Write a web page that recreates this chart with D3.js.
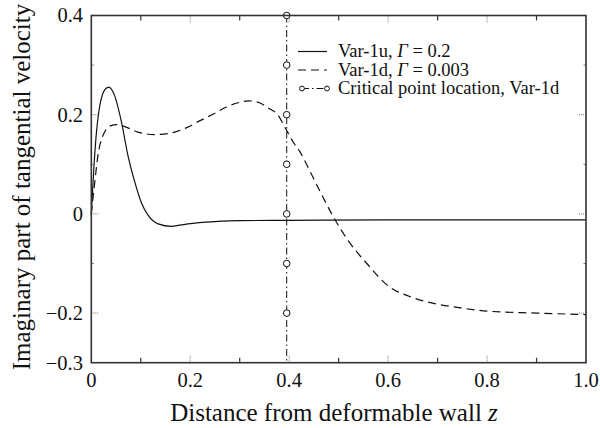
<!DOCTYPE html>
<html>
<head>
<meta charset="utf-8">
<script src="https://cdn.jsdelivr.net/npm/d3@7"></script>
<style>
  html, body { margin: 0; padding: 0; background: #fff; }
  svg { display: block; }
  text { font-family: "Liberation Serif", "Times New Roman", serif; fill: #111; }
</style>
</head>
<body>
<svg id="chart" width="600" height="428"></svg>
<script>
// ---- data ----
const zSolid = [0, 0.005, 0.01, 0.015, 0.02, 0.027, 0.035, 0.047, 0.061, 0.074, 0.088, 0.101, 0.115, 0.135, 0.162, 0.195, 0.25, 0.3, 0.4, 0.6, 0.8, 1.0];
const var1u  = [0, 0.09, 0.16, 0.205, 0.232, 0.25, 0.2557, 0.239, 0.185, 0.118, 0.064, 0.023, -0.003, -0.02, -0.025, -0.02, -0.0155, -0.0135, -0.013, -0.012, -0.012, -0.012];

const zDashed = [0, 0.007, 0.0135, 0.027, 0.04, 0.05, 0.065, 0.094, 0.128, 0.155, 0.195, 0.22, 0.25, 0.274, 0.3, 0.318, 0.34, 0.36, 0.375, 0.395, 0.408, 0.422, 0.44, 0.46, 0.486, 0.52, 0.557, 0.6, 0.645, 0.7, 0.75, 0.8, 0.9, 1.0];
const var1d   = [0, 0.064, 0.118, 0.165, 0.178, 0.18, 0.177, 0.165, 0.16, 0.162, 0.175, 0.188, 0.203, 0.216, 0.225, 0.228, 0.224, 0.212, 0.202, 0.168, 0.145, 0.125, 0.09, 0.05, 0.0, -0.055, -0.1, -0.145, -0.167, -0.182, -0.19, -0.196, -0.2, -0.203];

const criticalZ = 0.395;
const criticalMarkers = [0.4, 0.3, 0.2, 0.1, 0, -0.1, -0.2];

const xLabelTicks = [0, 0.2, 0.4, 0.6, 0.8, 1.0];
const xLabelText  = ["0", "0.2", "0.4", "0.6", "0.8", "1.0"];
const xMinorTicks = [0.1, 0.3, 0.5, 0.7, 0.9];
const yLabelTicks = [0.4, 0.2, 0, -0.2, -0.3];
const yLabelText  = ["0.4", "0.2", "0", "\u22120.2", "\u22120.3"];
const yMinorTicks = [0.3, 0.1, -0.1];

const legendLabels = ["Var-1u, ", "Var-1d, ", "Critical point location, Var-1d"];
const legendGamma  = ["0.2", "0.003", null];

// ---- layout ----
const svg = d3.select("#chart");
const L = 91.3, R = 586, T = 15.5, B = 362.7;
const x = d3.scaleLinear().domain([0, 1]).range([L, R]);
const y = d3.scaleLinear().domain([-0.3, 0.4]).range([B, T]);

const frameColor = "#333";

// curves
const line = d3.line().curve(d3.curveMonotoneX);
svg.append("path")
  .attr("d", line(zSolid.map((z, i) => [x(z), y(var1u[i])])))
  .attr("fill", "none").attr("stroke", "#111").attr("stroke-width", 1.2);
svg.append("path")
  .attr("d", line(zDashed.map((z, i) => [x(z), y(var1d[i])])))
  .attr("fill", "none").attr("stroke", "#111").attr("stroke-width", 1.2)
  .attr("stroke-dasharray", "8,5");

// critical line
svg.append("line")
  .attr("x1", x(criticalZ)).attr("x2", x(criticalZ))
  .attr("y1", y(0.4)).attr("y2", y(-0.3))
  .attr("stroke", "#111").attr("stroke-width", 1)
  .attr("stroke-dasharray", "7,3,1.5,3");
svg.selectAll("circle.crit").data(criticalMarkers).join("circle")
  .attr("class", "crit")
  .attr("cx", x(criticalZ)).attr("cy", d => y(d)).attr("r", 3.3)
  .attr("fill", "#fff").attr("stroke", "#111").attr("stroke-width", 1);

// ticks
const tg = svg.append("g");
xMinorTicks.forEach(v => {
  [[B, B - 5], [T, T + 5]].forEach(([a, b]) =>
    tg.append("line").attr("x1", x(v)).attr("x2", x(v)).attr("y1", a).attr("y2", b)
      .attr("stroke", frameColor).attr("stroke-width", 1.2));
});
xLabelTicks.filter(v => v > 0 && v < 1).forEach(v => {
  [[B, B - 8], [T, T + 8]].forEach(([a, b]) =>
    tg.append("line").attr("x1", x(v)).attr("x2", x(v)).attr("y1", a).attr("y2", b)
      .attr("stroke", "#777").attr("stroke-width", 1).attr("stroke-dasharray", "1,1"));
});
yLabelTicks.filter(v => v > -0.3 && v < 0.4).forEach(v => {
  [[L, L + 8], [R, R - 8]].forEach(([a, b]) =>
    tg.append("line").attr("y1", y(v)).attr("y2", y(v)).attr("x1", a).attr("x2", b)
      .attr("stroke", "#777").attr("stroke-width", 1).attr("stroke-dasharray", "1,1"));
});
yMinorTicks.forEach(v => {
  [[L, L + 2.5], [R, R - 2.5]].forEach(([a, b]) =>
    tg.append("line").attr("y1", y(v)).attr("y2", y(v)).attr("x1", a).attr("x2", b)
      .attr("stroke", "#777").attr("stroke-width", 1));
});

// frame
svg.append("rect").attr("x", L).attr("y", T).attr("width", R - L).attr("height", B - T)
  .attr("fill", "none").attr("stroke", frameColor).attr("stroke-width", 1.6);

// tick labels
svg.selectAll("text.xt").data(xLabelTicks).join("text")
  .attr("class", "xt")
  .attr("x", d => x(d)).attr("y", 387)
  .attr("text-anchor", "middle").attr("font-size", 20.5)
  .text((d, i) => xLabelText[i]);
svg.selectAll("text.yt").data(yLabelTicks).join("text")
  .attr("class", "yt")
  .attr("x", 83).attr("y", d => y(d) + 6.8)
  .attr("text-anchor", "end").attr("font-size", 20.5)
  .text((d, i) => yLabelText[i]);

// axis titles
const xt = svg.append("text").attr("x", 334).attr("y", 421)
  .attr("text-anchor", "middle").attr("font-size", 25);
xt.append("tspan").text("Distance from deformable wall ");
xt.append("tspan").attr("font-style", "italic").text("z");

svg.append("text")
  .attr("transform", "translate(30,187) rotate(-90)")
  .attr("text-anchor", "middle").attr("font-size", 25)
  .text("Imaginary part of tangential velocity");

// legend
const lg = svg.append("g");
const rowY = [51.5, 70, 88.5];
const sx1 = 298, sx2 = 327, tx = 338;
lg.append("line").attr("x1", sx1).attr("x2", sx2).attr("y1", rowY[0]).attr("y2", rowY[0])
  .attr("stroke", "#111").attr("stroke-width", 1.2);
lg.append("line").attr("x1", sx1).attr("x2", sx2).attr("y1", rowY[1]).attr("y2", rowY[1])
  .attr("stroke", "#111").attr("stroke-width", 1.2).attr("stroke-dasharray", "8,5");
lg.append("line").attr("x1", sx1 + 4).attr("x2", sx2).attr("y1", rowY[2]).attr("y2", rowY[2])
  .attr("stroke", "#111").attr("stroke-width", 1).attr("stroke-dasharray", "7,3,1.5,3");
[sx1 + 4, sx2].forEach(cx =>
  lg.append("circle").attr("cx", cx).attr("cy", rowY[2]).attr("r", 2.4)
    .attr("fill", "#fff").attr("stroke", "#111").attr("stroke-width", 1));
// one text block, one line per legend entry
const legendText = lg.append("text").attr("font-size", 18.5);
legendLabels.forEach((lab, i) => {
  legendText.append("tspan").attr("x", tx).attr("y", rowY[i] + 5.5).text(lab);
  if (legendGamma[i] !== null) {
    legendText.append("tspan").attr("font-style", "italic").text("\u0393");
    legendText.append("tspan").text(" = " + legendGamma[i]);
  }
});
</script>
</body>
</html>
